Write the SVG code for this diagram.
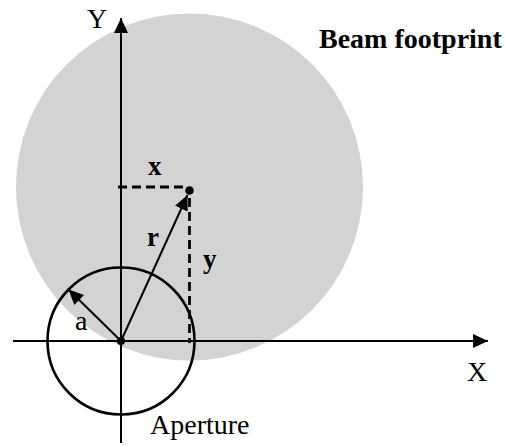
<svg xmlns="http://www.w3.org/2000/svg" width="506" height="446" viewBox="0 0 506 446">
<style>
.ax{stroke:#000;stroke-width:2;fill:none}
.dash{stroke:#000;stroke-width:2.8;stroke-dasharray:9,5;fill:none}
text{font-family:'Liberation Serif','Times New Roman',serif;fill:#000}
.b{font-weight:bold}
</style>
<defs>
<marker id="ah" markerWidth="16" markerHeight="14" refX="15" refY="7" orient="auto" markerUnits="userSpaceOnUse">
<path d="M0,0 L15,7 L0,14 Z" fill="#000"/>
</marker>
</defs>
<rect width="506" height="446" fill="#fff"/>
<g id="beam">
<circle cx="189.5" cy="187" r="173.5" fill="#d3d3d3"/>
<text class="b" x="319" y="48" font-size="28">Beam footprint</text>
</g>
<g id="aperture">
<circle cx="121" cy="341" r="73.5" fill="none" stroke="#000" stroke-width="2.6"/>
<text x="150" y="434" font-size="28">Aperture</text>
</g>
<g id="connectors">
<line class="ax" x1="121" y1="443" x2="121" y2="18" marker-end="url(#ah)"/>
<line class="ax" x1="13" y1="341" x2="488" y2="341" marker-end="url(#ah)"/>
<line class="dash" x1="118" y1="187" x2="186" y2="187"/>
<line class="dash" x1="189.5" y1="198" x2="189.5" y2="343"/>
<line class="ax" x1="121" y1="341" x2="187.5" y2="195" marker-end="url(#ah)"/>
<line class="ax" x1="121" y1="341" x2="68.5" y2="289.5" marker-end="url(#ah)"/>
</g>
<g id="origin"><circle cx="121" cy="341" r="4" fill="#000"/></g>
<g id="point"><circle cx="189.5" cy="190.5" r="4.3" fill="#000"/></g>
<g id="labels">
<text x="87" y="28" font-size="28">Y</text>
<text x="467" y="381" font-size="28">X</text>
<text class="b" x="148" y="175" font-size="27">x</text>
<text class="b" x="147" y="246" font-size="27">r</text>
<text class="b" x="203" y="268" font-size="27">y</text>
<text x="75" y="330" font-size="28">a</text>
</g>
</svg>
